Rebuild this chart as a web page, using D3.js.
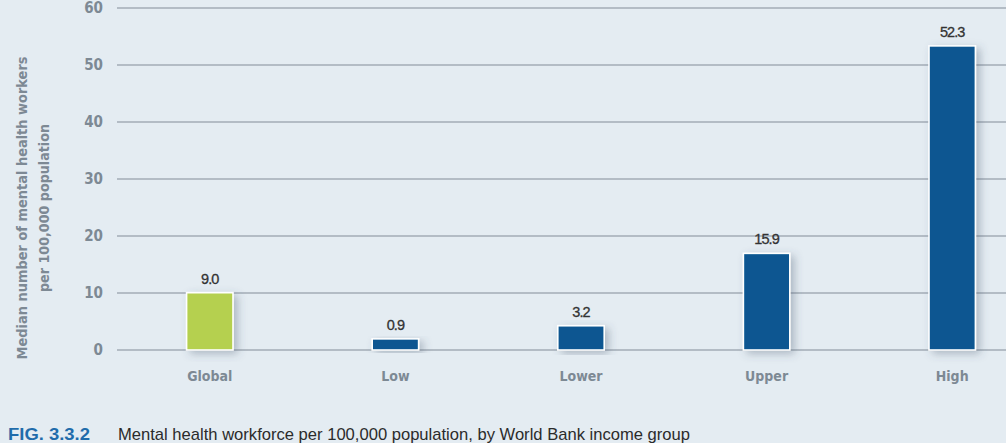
<!DOCTYPE html>
<html>
<head>
<meta charset="utf-8">
<script src="https://cdn.jsdelivr.net/npm/d3@7"></script>
<style>
  html, body { margin: 0; padding: 0; background: #e4ecf2; }
  svg { display: block; }
</style>
</head>
<body>
<div id="chart"></div>
<script>
const categories = ["Global", "Low", "Lower", "Upper", "High"];
const values = [9.0, 0.9, 3.2, 15.9, 52.3];
const labels = ["9.0", "0.9", "3.2", "15.9", "52.3"];
const yTicks = [0, 10, 20, 30, 40, 50, 60];
const axisTitle = ["Median number of mental health workers", "per 100,000 population"];
const figLabel = "FIG. 3.3.2";
const caption = "Mental health workforce per 100,000 population, by World Bank income group";

const width = 1006, height = 443;
const narrow = "'DejaVu Sans Condensed', 'Roboto Condensed', 'Liberation Sans Narrow', sans-serif";

const svg = d3.select("#chart").append("svg")
    .attr("width", width)
    .attr("height", height)
    .style("background", "#e4ecf2");

const defs = svg.append("defs");
const shadow = defs.append("filter")
    .attr("id", "shadow")
    .attr("x", "-40%").attr("y", "-20%")
    .attr("width", "180%").attr("height", "140%");
shadow.append("feDropShadow")
    .attr("dx", 4).attr("dy", 3)
    .attr("stdDeviation", 4)
    .attr("flood-color", "#44546a")
    .attr("flood-opacity", 0.35);

const y = d3.scaleLinear().domain([0, 60]).range([350, 8]);
const x = d3.scaleBand()
    .domain(categories)
    .range([117, 1045])
    .paddingInner(0.75)
    .paddingOuter(0.375);

// gridlines
svg.append("g")
    .selectAll("line")
    .data(yTicks)
    .join("line")
    .attr("x1", 117)
    .attr("x2", width)
    .attr("y1", d => y(d))
    .attr("y2", d => y(d))
    .attr("stroke", "#a3adb6")
    .attr("stroke-width", 1.6);

// y tick labels
svg.append("g")
    .selectAll("text")
    .data(yTicks)
    .join("text")
    .attr("x", 103)
    .attr("y", d => y(d))
    .attr("dy", "0.36em")
    .attr("text-anchor", "end")
    .style("font-family", narrow)
    .style("font-weight", "bold")
    .style("font-size", "15px")
    .style("fill", "#7d8994")
    .text(d => d);

// axis title
const titleLens = [303, 168];
svg.append("g")
    .selectAll("text")
    .data(axisTitle)
    .join("text")
    .attr("transform", (d, i) => `translate(${i === 0 ? 27 : 49},208) rotate(-90)`)
    .attr("text-anchor", "middle")
    .attr("textLength", (d, i) => titleLens[i])
    .attr("lengthAdjust", "spacingAndGlyphs")
    .style("font-family", narrow)
    .style("font-weight", "bold")
    .style("font-size", "14px")
    .style("fill", "#7d8994")
    .text(d => d);

// bars (top sits a little above the value, as in the original figure)
const lift = 6;
svg.append("g")
    .selectAll("rect")
    .data(values)
    .join("rect")
    .attr("x", (d, i) => x(categories[i]))
    .attr("y", d => y(d) - lift)
    .attr("width", x.bandwidth())
    .attr("height", d => y(0) - y(d) + lift)
    .attr("fill", (d, i) => i === 0 ? "#b5d04f" : "#075791")
    .attr("stroke", "#ffffff")
    .attr("stroke-width", 1.6)
    .attr("filter", "url(#shadow)");

// value labels
svg.append("g")
    .selectAll("text")
    .data(values)
    .join("text")
    .attr("x", (d, i) => x(categories[i]) + x.bandwidth() / 2)
    .attr("y", d => y(d) - lift - 9)
    .attr("text-anchor", "middle")
    .style("font-family", "'Liberation Sans', Arial, sans-serif")
    .style("font-size", "14.5px")
    .style("letter-spacing", "-0.9px")
    .style("stroke", "#333333")
    .style("stroke-width", 0.3)
    .style("fill", "#333333")
    .text((d, i) => labels[i]);

// category labels
svg.append("g")
    .selectAll("text")
    .data(categories)
    .join("text")
    .attr("x", d => x(d) + x.bandwidth() / 2)
    .attr("y", 381)
    .attr("text-anchor", "middle")
    .style("font-family", narrow)
    .style("font-weight", "bold")
    .style("font-size", "14px")
    .style("fill", "#7d8994")
    .text(d => d);

// caption
svg.append("text")
    .attr("x", 8)
    .attr("y", 440)
    .attr("textLength", 82)
    .attr("lengthAdjust", "spacingAndGlyphs")
    .style("font-family", "'Liberation Sans', Arial, sans-serif")
    .style("font-weight", "bold")
    .style("font-size", "17px")
    .style("fill", "#1f6cab")
    .text(figLabel);

svg.append("text")
    .attr("x", 118)
    .attr("y", 440)
    .attr("textLength", 572)
    .attr("lengthAdjust", "spacingAndGlyphs")
    .style("font-family", "'Liberation Sans', Arial, sans-serif")
    .style("font-size", "17px")
    .style("fill", "#2b2b2b")
    .text(caption);
</script>
</body>
</html>
